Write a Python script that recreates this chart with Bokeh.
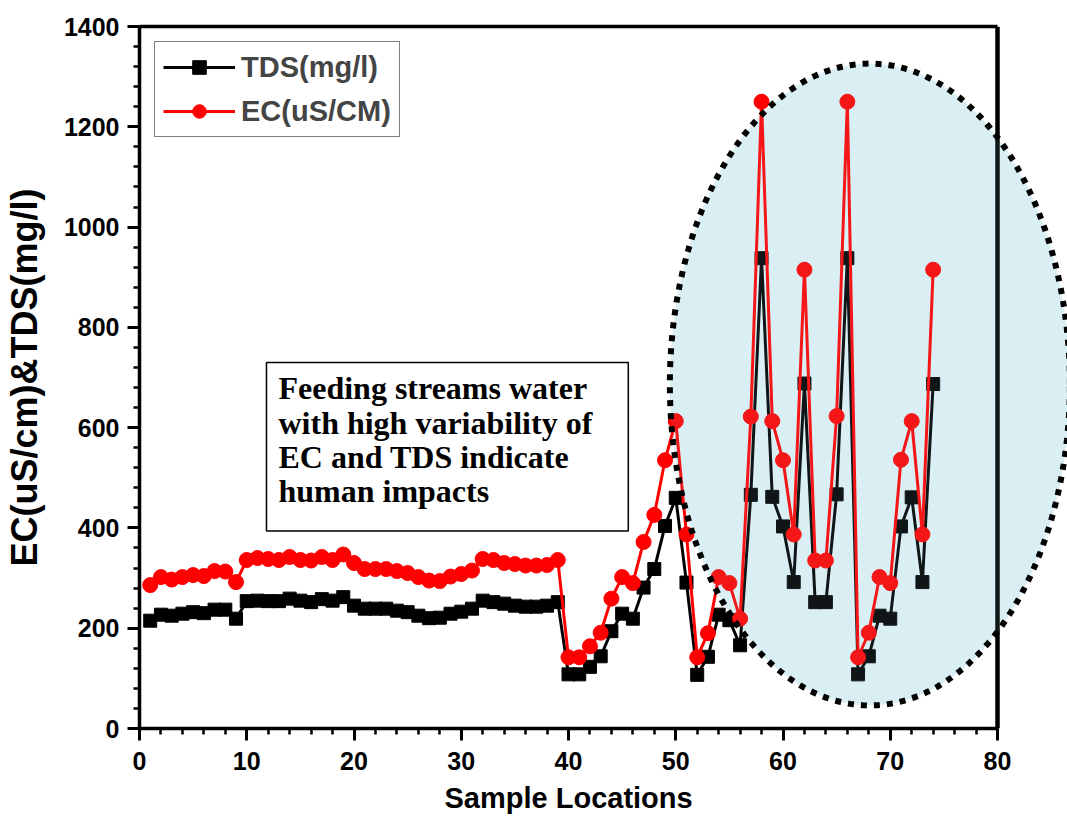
import numpy as np
from bokeh.plotting import figure
from bokeh.models import (Range1d, LinearAxis, Label, PolyAnnotation, Legend, Title,
                          LegendItem, SingleIntervalTicker, FixedTicker, Span)
from bokeh.embed import file_html
from bokeh.resources import INLINE

# ---------------- data ----------------
sample = list(range(1, 75))
ec = [286, 302, 297, 302, 306, 304, 314, 313, 292, 336,
      340, 338, 336, 342, 336, 335, 342, 336, 347, 330,
      318, 318, 318, 314, 310, 302, 295, 294, 303, 308,
      315, 338, 336, 330, 328, 325, 325, 326, 336, 142,
      142, 164, 191, 259, 302, 290, 372, 426, 535, 613,
      387, 142, 190, 302, 290, 219, 622, 1250, 613, 535,
      387, 915, 335, 335, 623, 1250, 142, 191, 302, 290,
      536, 613, 387, 915]
tds = [215, 227, 225, 229, 232, 230, 237, 237, 219, 254,
       255, 254, 254, 259, 255, 252, 258, 255, 262, 245,
       239, 239, 239, 235, 232, 225, 220, 221, 229, 233,
       239, 255, 252, 249, 245, 243, 243, 245, 252, 108,
       108, 123, 144, 194, 229, 219, 281, 318, 404, 460,
       291, 107, 143, 227, 216, 166, 466, 938, 462, 403,
       292, 688, 252, 252, 467, 938, 108, 144, 225, 219,
       403, 461, 292, 687]

x_label = "Sample Locations"
y_label = "EC(uS/cm)&TDS(mg/l)"
note_text = "Feeding streams water\nwith high variability of\nEC and TDS indicate\nhuman impacts"

x_min, x_max = 0, 80
y_min, y_max = 0, 1400

# highlighted region (ellipse) in data units
ell_cx, ell_cy, ell_rx, ell_ry = 68.1, 686, 18.65, 640

FONT = "Liberation Sans"

# frame extends past x=80 so the ellipse can run beyond the right border
x_view_end = x_max * 929 / 858

p = figure(frame_width=929, frame_height=702,
           x_range=Range1d(x_min, x_view_end), y_range=Range1d(y_min, y_max),
           output_backend="svg", toolbar_location=None,
           min_border_left=138, min_border_right=0,
           min_border_top=26, min_border_bottom=90,
           background_fill_color="white", border_fill_color="white")
p.grid.visible = False
p.outline_line_color = None

xt = SingleIntervalTicker(interval=10, num_minor_ticks=5)
yt = SingleIntervalTicker(interval=200, num_minor_ticks=5)

for ax, tk in ((p.xaxis[0], xt), (p.yaxis[0], yt)):
    ax.ticker = tk
    ax.axis_line_width = 3.5
    ax.major_tick_line_width = 3
    ax.minor_tick_line_width = 2.5
    ax.major_tick_out = 12
    ax.major_tick_in = 0
    ax.minor_tick_out = 6
    ax.minor_tick_in = 0
    ax.major_label_text_font = FONT
    ax.major_label_text_font_style = "bold"
    ax.major_label_text_font_size = "25px"
    ax.major_label_text_color = "black"
    ax.axis_label_text_font = FONT
    ax.axis_label_text_font_style = "bold"
    ax.axis_label_text_color = "black"

p.xaxis.bounds = (x_min, x_max)
p.xaxis.major_label_standoff = 11
p.yaxis.major_label_standoff = 8
p.yaxis.axis_label = y_label
p.yaxis.axis_label_text_font_size = "36px"
p.yaxis.axis_label_standoff = 16

# x-axis title, centred under the 0-80 span of the axis
p.add_layout(Title(text=x_label, align="left", offset=305, standoff=15,
                   text_font=FONT, text_font_style="bold", text_font_size="29px",
                   text_color="black"), "below")

# ellipse fill under the data
t = np.linspace(0, 2 * np.pi, 400)
ell_xs = list(ell_cx + ell_rx * np.cos(t))
ell_ys = list(ell_cy + ell_ry * np.sin(t))
ell_fill = PolyAnnotation(xs=ell_xs, ys=ell_ys, xs_units="data", ys_units="data",
                          fill_color="#e0f2f7", fill_alpha=1.0, line_color=None,
                          level="underlay")
p.add_layout(ell_fill)

# top border (axis line only) and right border at x = 80
top_ax = LinearAxis(ticker=FixedTicker(ticks=[], minor_ticks=[]), bounds=(x_min, x_max),
                    axis_line_width=3.5, major_tick_line_color=None, minor_tick_line_color=None)
p.add_layout(top_ax, "above")
p.add_layout(Span(location=x_max, dimension="height", line_color="black", line_width=4.5))

# series
l1 = p.line(sample, tds, line_color="black", line_width=3)
s1 = p.scatter(sample, tds, marker="square", size=13, fill_color="black", line_color="black")
l2 = p.line(sample, ec, line_color="red", line_width=3)
s2 = p.scatter(sample, ec, marker="circle", size=15, fill_color="red", line_color="red")

# dotted ellipse outline with a light tint over the data
ell = PolyAnnotation(xs=ell_xs, ys=ell_ys, xs_units="data", ys_units="data",
                     fill_color="#9fd6e6", fill_alpha=0.1,
                     line_color="black", line_alpha=1.0, line_width=6, line_dash="6 7")
p.add_layout(ell)

legend = Legend(items=[LegendItem(label="TDS(mg/l)", renderers=[l1, s1]),
                       LegendItem(label="EC(uS/CM)", renderers=[l2, s2])],
                location="top_left")
legend.margin = 15
legend.padding = 8
legend.spacing = 10
legend.glyph_width = 72
legend.glyph_height = 34
legend.label_standoff = 6
legend.label_text_font = FONT
legend.label_text_font_style = "bold"
legend.label_text_font_size = "29px"
legend.border_line_color = "black"
legend.border_line_width = 1.5
p.add_layout(legend)

note = Label(x=11.84, y=730, x_units="data", y_units="data", anchor="top_left",
             text=note_text, text_font="Liberation Serif", text_font_style="bold",
             text_font_size="32px", text_line_height=0.95, text_color="black",
             border_line_color="black", border_line_width=1.5,
             background_fill_color="white", padding=(12, 36, 8, 22))
p.add_layout(note)

open("out.html", "w").write(file_html(p, INLINE))
